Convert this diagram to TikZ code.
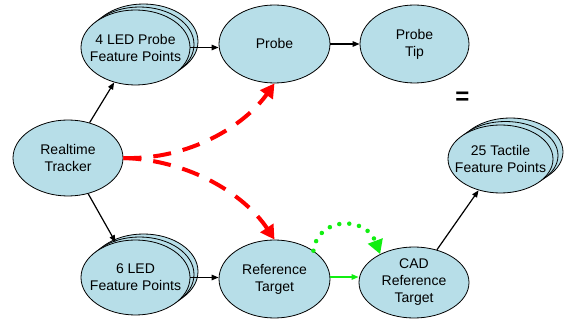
\documentclass[tikz,border=0pt]{standalone}
\usepackage{fontspec}
\setmainfont{Liberation Sans}
\usetikzlibrary{shapes.geometric,arrows.meta}
\definecolor{nodefill}{HTML}{B7DEE8}
\definecolor{redarr}{HTML}{FF0000}
\definecolor{greenarr}{HTML}{11EE11}
\begin{document}
\begin{tikzpicture}[x=1pt,y=-1pt,
  ell/.style={ellipse, draw=black, line width=0.8pt, fill=nodefill, inner sep=0pt},
  lbl/.style={align=center, inner sep=0pt, font=\fontsize{14}{17}\selectfont},
  arr/.style={-{Triangle[length=7pt,width=5.5pt]}, line width=1.2pt},
  garr/.style={-{Triangle[length=7pt,width=5.5pt]}, line width=1.2pt, draw=greenarr, color=greenarr},
  reddash/.style={-{Triangle[length=14pt,width=15pt]}, line width=4pt, draw=redarr, color=redarr, dash pattern=on 18pt off 12pt},
  greendot/.style={-{Triangle[length=14pt,width=15pt]}, line width=4.5pt, draw=greenarr, color=greenarr, line cap=round, dash pattern=on 0pt off 10pt},
]
\useasboundingbox (0,0) rectangle (568,320);

% 4 LED stack
\node[ell, minimum width=109pt, minimum height=75pt] (led4b2) at (143.5,41.5) {};
\node[ell, minimum width=109pt, minimum height=75pt] (led4b1) at (139.5,44.5) {};
\node[ell, minimum width=109pt, minimum height=75pt] (led4) at (135.5,47.5) {};
\node[lbl] (led4t) at (led4.center) {4 LED Probe\\Feature Points};

% Probe
\node[ell, minimum width=111pt, minimum height=78pt] (probe) at (274.5,44) {};
\node[lbl] (probet) at (probe.center) {Probe};

% Probe tip
\node[ell, minimum width=109pt, minimum height=78pt] (tip) at (414.5,44) {};
\node[lbl] (tipt) at (tip.center) {Probe\\Tip};

% equals
\node[inner sep=0pt, font=\fontsize{24}{24}\selectfont\bfseries] (eq) at (462.5,98) {=};

% 25 tactile stack
\node[ell, minimum width=105pt, minimum height=68pt] (tacb2) at (510.5,152) {};
\node[ell, minimum width=105pt, minimum height=68pt] (tacb1) at (505.5,155.5) {};
\node[ell, minimum width=105pt, minimum height=68pt] (tac) at (500.5,159) {};
\node[lbl] (tact) at (tac.center) {25 Tactile\\Feature Points};

% Realtime tracker
\node[ell, minimum width=110pt, minimum height=76pt] (tr) at (68,158) {};
\node[lbl] (trt) at (tr.center) {Realtime\\Tracker};

% 6 LED stack
\node[ell, minimum width=109pt, minimum height=75pt] (led6b2) at (143.5,271.5) {};
\node[ell, minimum width=109pt, minimum height=75pt] (led6b1) at (139.5,274.5) {};
\node[ell, minimum width=109pt, minimum height=75pt] (led6) at (135.5,277.5) {};
\node[lbl] (led6t) at (led6.center) {6 LED\\Feature Points};

% Reference target
\node[ell, minimum width=111pt, minimum height=78pt] (ref) at (274.5,279) {};
\node[lbl] (reft) at (ref.center) {Reference\\Target};

% CAD reference target
\node[ell, minimum width=110pt, minimum height=71pt] (cad) at (414,282.5) {};
\node[lbl] (cadt) at (cad.center) {CAD\\Reference\\Target};

% black arrows
\draw[arr] (tr) -- (led4);
\draw[arr] (tr) -- (led6);
\draw[arr] (led4.east) -- (led4.east -| probe.west);
\draw[arr] (probe.east) -- (tip.west);
\draw[arr] (led6.east) -- (led6.east -| ref.west);
\draw[arr] (cad) -- (tac);

% green arrows
\draw[garr] (ref.east |- 0,277) -- (cad.west |- 0,277);
\draw[greendot] (ref.36) .. controls (318,216) and (366,216) .. (cad.140);

% red dashed
\draw[reddash] (tr.east) .. controls (190,160) and (245,125) .. (probe.south);
\draw[reddash] (tr.east) .. controls (190,160) and (245,195) .. (ref.north);
\end{tikzpicture}
\end{document}
